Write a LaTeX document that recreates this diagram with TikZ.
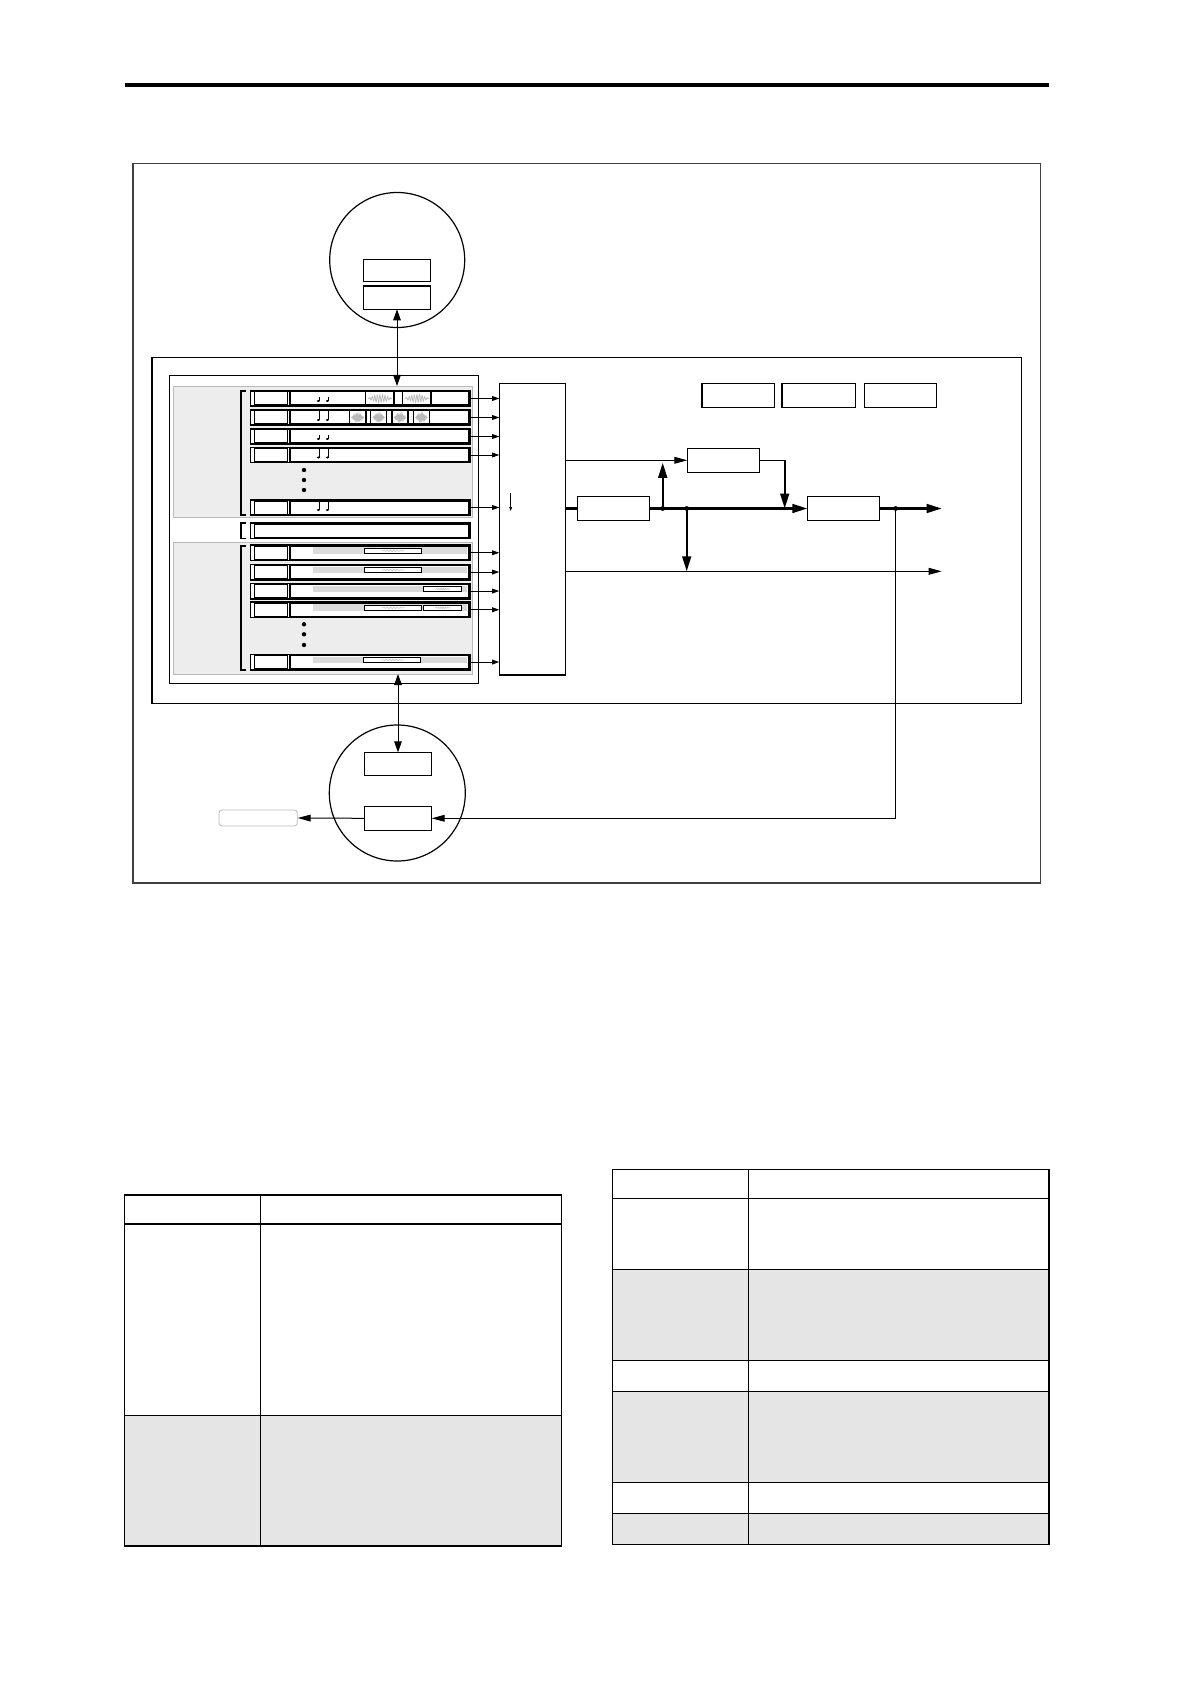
\documentclass[tikz,border=0pt]{standalone}
\usetikzlibrary{arrows.meta,fit,calc}
\begin{document}
\begin{tikzpicture}[x=0.5pt,y=-0.5pt,
  thinln/.style={line width=0.5pt},
  thickln/.style={line width=1.1pt},
  boxn/.style={draw, line width=0.55pt, fill=white, inner sep=0pt, outer sep=0pt},
  rowo/.style={draw, line width=0.7pt, fill=white, inner sep=0pt, outer sep=0pt},
  cellb/.style={draw, line width=0.7pt, fill=white, inner sep=0pt, outer sep=0pt},
  wbox/.style={draw, line width=0.4pt, fill=white, inner sep=0pt, outer sep=0pt},
  gpanel/.style={draw=gray!55, line width=0.4pt, fill=gray!14, inner sep=0pt, outer sep=0pt},
  tipS/.style={-{Triangle[length=3.6pt,width=2.4pt]}},
  tipM/.style={-{Triangle[length=6.5pt,width=3.4pt]}},
  tipL/.style={-{Triangle[length=7.5pt,width=4.4pt]}},
  dbl/.style={{Triangle[length=5.5pt,width=3.8pt]}-{Triangle[length=5.5pt,width=3.8pt]}},
  junct/.style={circle, fill=black, inner sep=0pt, minimum size=2.4pt},
  tline/.style={line width=0.6pt},
  wave/.style={gray!55, line width=0.35pt}
]
\useasboundingbox[fill=white] (0,0) rectangle (1190,1684);

% top rule
\draw[line width=1.75pt] (125,85) -- (1049,85);

% outer frame
\node[draw=black!75, line width=0.55pt, inner sep=0pt, fit={(133,163.3) (1040.7,883)}] (frame) {};

% top circle
\node[draw, circle, line width=0.6pt, minimum size=67.5pt, inner sep=0pt] (ctop) at (397.2,260) {};
\node[boxn, fit={(363.3,259.3) (430.7,281.3)}] (t1) {};
\node[boxn, fit={(363.3,286) (430.7,309.3)}] (t2) {};

% main box
\node[draw, line width=0.55pt, inner sep=0pt, fit={(152,357.3) (1021.7,703.3)}] (main) {};
\node[draw, line width=0.45pt, fill=white, inner sep=0pt, fit={(169,375) (478,683)}] (inner) {};
\node[gpanel, fit={(173,386) (472,517)}] (gpu) {};
\node[gpanel, fit={(173,542) (472,674)}] (gpl) {};

% mixer
\node[boxn, fit={(499.3,383.3) (565.7,675)}] (mix) {};
\draw[line width=0.35pt, -{Triangle[length=2pt,width=1.4pt]}] (510.7,493) -- (510.7,511);

% brackets
\draw[line width=0.8pt] (245.5,391) -- (240.7,391) -- (240.7,515) -- (245.5,515);
\draw[line width=0.8pt] (245.5,523) -- (240.7,523) -- (240.7,538.3) -- (245.5,538.3);
\draw[line width=0.8pt] (245.5,546) -- (240.7,546) -- (240.7,670) -- (245.5,670);

% upper rows
\foreach \t [count=\i] in {391,410,429,447.5,500} {
  \node[rowo, fit={(250.7,\t) (470,{\t+15})}] (u\i) {};
  \node[cellb, fit={(254.3,{\t+0.8}) (287.7,{\t+14.2})}] {};
  \node[cellb, fit={(290,{\t+0.8}) (468.3,{\t+14.2})}] {};
  \draw[thinln,tipS] (u\i.east) -- (u\i.east -| mix.west);
}
% notes
\foreach \t/\s in {391/3.5,410/8.5,429/3.5,447.5/8.5,500/8.5} {
  \foreach \nx in {318.3,327.3} {
    \fill (\nx,{\t+10}) ellipse (0.8pt and 0.55pt);
    \draw[line width=0.3pt] ({\nx+1.4},{\t+10}) -- ({\nx+1.4},{\t+10-\s});
  }
}
% waveform boxes, row 1 and 2
\foreach \a/\b/\t in {365.7/394/391, 402.7/431/391, 349.3/366/410, 370.7/386.7/410, 392/408/410, 413.3/429.3/410} {
  \node[cellb, fit={(\a,{\t+0.8}) (\b,{\t+14.2})}] {};
  \draw[wave] plot[domain=0:1, samples=70] ({\a+2+(\b-\a-4)*\x}, {\t+7.5+4*sin(\x*3400)*sin(\x*180)});
}
% dots upper
\foreach \dy in {470,480,490} \fill (304,\dy) circle (1.1pt);

% middle row
\node[rowo, fit={(250.7,523) (470,538.3)}] (mrow) {};
\node[cellb, fit={(254.3,523.8) (468.3,537.5)}] {};

% lower rows
\foreach \t [count=\i] in {545,564.3,583.3,602,654.3} {
  \node[rowo, fit={(250.7,\t) (470,{\t+15.5})}] (l\i) {};
  \node[cellb, fit={(254.3,{\t+0.8}) (287.7,{\t+14.7})}] {};
  \node[cellb, fit={(290,{\t+0.8}) (468.3,{\t+14.7})}] {};
  \fill[gray!28] (313.3,{\t+2.3}) rectangle (466.7,{\t+8.8});
  \draw[thinln,tipS] (l\i.east) -- (l\i.east -| mix.west);
}
\foreach \a/\b/\t in {364.3/421.7/545, 364.3/421.7/564.3, 423.3/461.7/583.3, 364.3/421.7/602, 423.3/461.7/602, 363.3/420.7/654.3} {
  \node[wbox, fit={(\a,{\t+3}) (\b,{\t+8.5})}] {};
  \draw[gray!45, line width=0.3pt] plot[domain=0:1, samples=40] ({\a+(\b-\a)*(0.3+0.4*\x)}, {\t+5.75+1*sin(\x*2500)*sin(\x*180)});
}
\foreach \dy in {624.3,634.3,645} \fill (304,\dy) circle (1.1pt);

% double arrows to circles
\draw[thinln,dbl] (t2.south) -- (t2.south |- gpu.north);

% top right boxes
\node[boxn, fit={(702,383.3) (774.7,407.3)}] (ra) {};
\node[boxn, fit={(782,383.3) (855.7,407.3)}] (rb) {};
\node[boxn, fit={(864.3,383.3) (936.7,407.3)}] (rc) {};

% effect boxes
\node[boxn, fit={(687.3,448.3) (759.3,472.3)}] (fx) {};
\node[boxn, fit={(577.3,496.5) (649.3,520.5)}] (bl) {};
\node[boxn, fit={(807.3,496.5) (879.3,520.5)}] (br) {};

\coordinate (outA) at (941.7,508.5);
\coordinate (outB) at (941.7,571.3);
\coordinate (j1) at (662.7,508.5);
\coordinate (j1t) at (662.7,462.8);
\coordinate (j2) at (686.7,508.5);
\coordinate (fxc) at (784.7,460.3);
\coordinate (fbj) at (895.7,508.5);

% signal lines
\draw[thinln,tipM] (mix.east |- fx.west) -- (fx.west);
\draw[thickln] (mix.east |- bl.west) -- (bl.west);
\draw[thickln,tipL] (bl.east) -- (br.west);
\draw[thickln,tipL] (br.east) -- (outA);
\draw[thinln,tipM] (mix.east |- outB) -- (outB);
\draw[thickln,tipL] (j1) -- (j1t);
\draw[thickln,tipL] (j2) -- (j2 |- outB);
\draw[line width=0.7pt] (fx.east) -- (fxc);
\draw[thickln,tipL] (fxc) -- (fxc |- br.west);
\node[junct] at (j1) {};
\node[junct] at (j2) {};
\node[junct] at (fbj) {};

% bottom circle
\node[draw, circle, line width=0.6pt, minimum size=68pt, inner sep=0pt] (cbot) at (397.3,793) {};
\node[boxn, fit={(364.3,752.3) (431.7,775.3)}] (b1) {};
\node[boxn, fit={(364.3,806.3) (431.7,830.3)}] (b2) {};
\draw[thinln,dbl] (gpl.south -| b1.north) -- (b1.north);
\draw[thinln,tipM] (fbj) |- (b2.east);
\node[draw=gray!55, line width=0.4pt, rounded corners=1.5pt, inner sep=0pt, fit={(219,810) (297.3,826)}] (lbox) {};
\draw[thinln,tipM] (b2.west) -- (lbox.east);

% left table
\fill[gray!20] (124.3,1415.3) rectangle (561.7,1546);
\draw[tline] (124.3,1195) rectangle (561.7,1546);
\draw[tline] (124.3,1224) -- (561.7,1224);
\draw[tline] (124.3,1415.3) -- (561.7,1415.3);
\draw[tline] (260.3,1195) -- (260.3,1546);

% right table
\fill[gray!20] (612.3,1269.3) rectangle (1049,1360.3);
\fill[gray!20] (612.3,1391.3) rectangle (1049,1482.3);
\fill[gray!20] (612.3,1513.3) rectangle (1049,1544.3);
\draw[tline] (612.3,1169.3) rectangle (1049,1544.3);
\foreach \ry in {1198.3,1269.3,1360.3,1391.3,1482.3,1513.3}
  \draw[tline] (612.3,\ry) -- (1049,\ry);
\draw[tline] (748.3,1169.3) -- (748.3,1544.3);
\draw[line width=1.1pt] (1049,1169.3) -- (1049,1544.3);
\end{tikzpicture}
\end{document}
